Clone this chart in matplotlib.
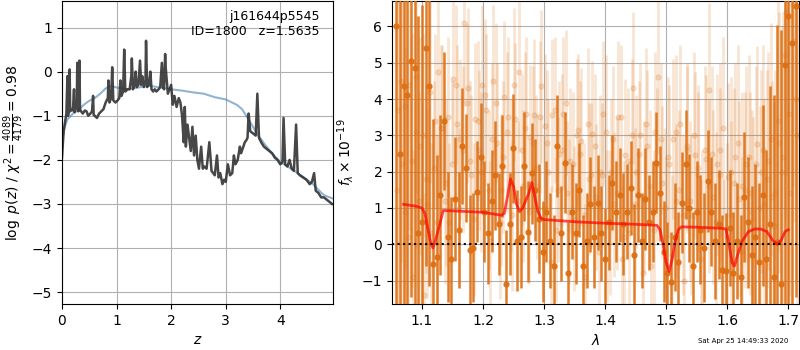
import numpy as np
import matplotlib
matplotlib.use('Agg')
import matplotlib.pyplot as plt

# --- p(z) panel: (z, log p) pairs ---
pz_fine = [(0.00, -1.95), (0.03, -1.35), (0.06, -1.10), (0.08, -0.95), (0.10, -0.10), (0.11, -1.00),
           (0.13, -0.85), (0.14, 0.05), (0.15, -0.90), (0.18, -0.85), (0.20, -0.88), (0.22, -0.40),
           (0.23, -0.92), (0.25, -0.85), (0.27, -0.80), (0.28, 0.20), (0.30, -0.90), (0.32, 0.25),
           (0.33, -0.85), (0.35, -0.90), (0.38, -0.95), (0.42, -0.88), (0.45, -0.90), (0.48, -1.00),
           (0.52, -0.95), (0.55, -0.90), (0.57, -0.55), (0.58, -0.98), (0.60, -1.00), (0.64, -1.05),
           (0.68, -0.95), (0.72, -0.90), (0.76, -0.85), (0.80, -0.70), (0.84, -0.60), (0.85, -0.20),
           (0.87, -0.70), (0.90, -0.60), (0.92, 0.10), (0.94, -0.65), (0.98, -0.70), (1.02, -0.65),
           (1.05, -0.60), (1.07, -0.20), (1.09, -0.55), (1.12, -0.45), (1.14, 0.50), (1.16, -0.45),
           (1.20, -0.40), (1.24, -0.40), (1.27, -0.10), (1.28, 0.30), (1.30, -0.40), (1.33, -0.30),
           (1.35, 0.00), (1.37, -0.35), (1.40, -0.30), (1.43, 0.25), (1.45, -0.30), (1.47, -0.10),
           (1.50, -0.35), (1.53, -0.20), (1.54, 0.70), (1.56, -0.35), (1.59, -0.30), (1.62, 0.00),
           (1.64, -0.40), (1.67, -0.45), (1.70, -0.40), (1.73, -0.45), (1.77, -0.40), (1.80, -0.35),
           (1.83, 0.20), (1.85, -0.35), (1.87, -0.40), (1.89, 0.40), (1.90, 0.10), (1.92, -0.20),
           (1.94, -0.50), (1.97, -0.40), (2.00, -0.30), (2.03, -0.75), (2.06, -0.55), (2.10, -0.80),
           (2.14, -0.60), (2.17, -0.70), (2.20, -1.00), (2.23, -1.60), (2.25, -0.80), (2.27, -1.70),
           (2.30, -1.20), (2.33, -1.50), (2.36, -1.80), (2.39, -1.25), (2.42, -1.90), (2.45, -1.45),
           (2.48, -2.00), (2.51, -2.20), (2.55, -1.70), (2.58, -2.20), (2.61, -2.15), (2.65, -2.20),
           (2.70, -1.60), (2.74, -2.25), (2.77, -2.30), (2.80, -2.35), (2.84, -1.90), (2.87, -2.40),
           (2.90, -2.30), (2.94, -2.55), (2.97, -2.45), (3.00, -2.50), (3.04, -2.10), (3.08, -2.35),
           (3.12, -2.30), (3.15, -1.90), (3.18, -2.10), (3.22, -2.00), (3.26, -1.70), (3.28, -1.85),
           (3.31, -1.75), (3.35, -1.60), (3.38, -1.55), (3.40, -1.50), (3.42, -0.95), (3.45, -1.35),
           (3.50, -1.40), (3.55, -1.45), (3.58, -0.50), (3.61, -1.50), (3.65, -1.60), (3.70, -1.70),
           (3.75, -1.75), (3.80, -1.80), (3.85, -1.85), (3.90, -1.95), (3.95, -2.00), (4.00, -2.10),
           (4.04, -2.05), (4.06, -1.05), (4.09, -2.10), (4.13, -2.15), (4.17, -2.00), (4.21, -2.20),
           (4.25, -2.25), (4.29, -1.20), (4.32, -2.30), (4.36, -2.35), (4.42, -2.40), (4.48, -2.45),
           (4.54, -2.55), (4.58, -2.50), (4.62, -2.30), (4.65, -2.70), (4.70, -2.75), (4.75, -2.85),
           (4.80, -2.85), (4.85, -2.90), (4.90, -2.95), (4.95, -3.00)]
pz_smooth = [(0.00, -1.75), (0.02, -1.45), (0.05, -1.25), (0.10, -1.08), (0.20, -0.95), (0.30, -0.87),
             (0.40, -0.75), (0.50, -0.66), (0.60, -0.60), (0.70, -0.50), (0.80, -0.38), (0.90, -0.33),
             (1.00, -0.36), (1.20, -0.40), (1.40, -0.36), (1.60, -0.32), (1.80, -0.36), (2.00, -0.40),
             (2.20, -0.43), (2.40, -0.47), (2.60, -0.50), (2.80, -0.58), (3.00, -0.63), (3.20, -0.75),
             (3.30, -0.85), (3.40, -1.05), (3.50, -1.25), (3.60, -1.45), (3.70, -1.62), (3.80, -1.78),
             (4.00, -2.05), (4.20, -2.20), (4.40, -2.37), (4.60, -2.55), (4.70, -2.68), (4.80, -2.80),
             (4.95, -2.87)]
z_fine, lnp_fine = zip(*pz_fine)
z_smooth, lnp_smooth = zip(*pz_smooth)

# --- spectrum panel ---
flux_dark = [6.0, 2.5,
             4.35, 4.1, 5.05, 4.85, 0.3, 0.6,
             5.4, 4.35, -0.55, -0.35, 1.35, 3.4,
             0.2, -0.4, 1.25, 0.4, 2.7, 2.1,
             -0.15, -0.1, 1.45, 2.4, 0.9, 0.3,
             1.2, 1.9, 0.55, 2.15, -1.1, 0.55,
             2.65, 0.1, 0.2, 2.15, 0.35, 1.95,
             1.5, 0.7, -0.2, 0.9, 0.1, -0.6,
             2.7, 0.3, 2.25, -0.8, 0.9, 0.3,
             1.5, -0.6, 0.1, 1.1, 0.2, 1.15,
             0.3, -0.4, 0.6, 1.7, 0.9, 1.35,
             0.55, 0.9, 1.55, -0.3, 1.35, 0.1,
             1.25, 0.6, 0.9, 2.25, 1.4, -0.2,
             -0.8, -1.05, 0.2, -0.5, 1.15, 2.2,
             1.0, -0.6, 0.9, 0.4, -0.1, 1.75,
             0.9, 0.1, 0.55, -0.7, -0.75, 0.45,
             -0.8, 0.1, -0.9, 1.3, 0.6, -0.3,
             0.2, -0.5, 1.35, -0.4, 0.55, -0.9,
             0.05, -1.1, 4.95, 6.3, 5.55, 6.55]
err_dark = [9.0, 9.0,
            7.0, 7.0, 6.5, 6.5, 6.0, 6.0,
            6.0, 5.5, 4.0, 2.8, 2.2, 1.9,
            1.8, 1.7, 1.7, 1.6, 1.6, 1.5,
            1.5, 1.5, 1.4, 1.5, 1.4, 1.4,
            1.4, 1.5, 1.4, 1.4, 1.5, 1.4,
            1.5, 1.4, 1.4, 1.5, 1.4, 1.4,
            1.4, 1.5, 1.4, 1.4, 1.3, 1.4,
            1.4, 1.3, 1.4, 1.4, 1.3, 1.4,
            1.3, 1.4, 1.3, 1.3, 1.4, 1.3,
            1.3, 1.4, 1.3, 1.3, 1.4, 1.3,
            1.4, 1.3, 1.3, 1.4, 1.3, 1.3,
            1.4, 1.3, 1.4, 1.4, 1.3, 1.4,
            1.4, 1.4, 1.5, 1.4, 1.4, 1.5,
            1.5, 1.5, 1.4, 1.5, 1.5, 1.4,
            1.5, 1.6, 1.5, 1.5, 1.6, 1.6,
            1.7, 1.6, 1.7, 1.8, 1.8, 1.9,
            2.0, 2.2, 2.5, 3.0, 3.8, 5.0,
            6.0, 7.0, 7.5, 8.0, 8.0, 8.0]
flux_light = [3.7, 2.2,
              0.9, 4.4, -0.9, 3.1, 2.7, -1.4,
              1.1, 0.3, 3.4, 4.75, 3.2, 1.7,
              0.6, 4.55, 3.3, 2.9, 6.1, 4.3,
              1.9, 3.45, 2.6, 4.4, 3.7, 0.1,
              4.5, 2.8, 1.5, 4.05, 3.5, 0.8,
              3.45, 4.75, 1.6, 3.6, 2.95, 3.55,
              1.6, 4.35, 3.25, 2.0, 3.55, 0.4,
              2.5, 3.6, 1.4, 2.3, 0.7, 3.15,
              2.85, -0.9, 1.8, 3.05, 1.3, 2.0,
              3.6, 0.5, 2.0, 1.1, 3.5, -0.4,
              2.45, 0.3, 4.3, 2.0, 3.0, 1.3,
              2.7, -0.6, 3.1, 4.6, 1.7, 0.2,
              2.2, 2.9, 1.2, 3.3, -1.0, 2.6,
              0.8, 2.45, 1.9, 0.4, 2.35, 4.25,
              1.3, 2.2, 2.6, -0.7, 1.85, 0.8,
              2.4, 1.25, 1.6, 2.2, 1.4, 0.7,
              2.75, 2.0, 1.1, 2.3, 1.3, 1.4,
              2.8, 2.4, 6.4, 1.4, 5.6, 3.0]
flux_light2 = [1.5, 4.5,
               3.8, 0.2, 2.3, 4.6, 1.2, 3.0,
               1.8, 4.2, 2.1, 0.6, 3.2, 1.2,
               3.5, 2.2, 4.4, 1.0, 2.6, 3.9,
               2.3, 0.7, 3.4, 2.0, 4.1, 1.5,
               2.9, 3.9, 0.6, 2.4, 3.1, 1.9,
               4.4, 1.2, 2.6, 3.2, 0.9, 2.8,
               2.1, 3.5, 1.0, 2.8, -0.5, 3.7,
               1.5, 2.6, 3.9, 0.9, 2.2, 3.0,
               2.5, 0.8, 3.3, 1.9, 2.7, -0.2,
               1.9, 3.1, 0.6, 2.9, 1.4, 3.5,
               0.2, 2.3, 3.0, 1.1, 2.5, -0.8,
               3.3, 1.6, 0.4, 2.2, 2.9, 1.0,
               2.4, -0.3, 3.1, 1.5, 0.8, 2.7,
               1.2, 3.0, 2.1, -0.4, 2.6, 1.6,
               2.5, 0.6, 1.9, 3.2, 0.2, 2.0,
               1.7, 2.8, -0.2, 1.5, 2.4, 0.9,
               2.2, 1.0, 2.6, 1.8, 2.9, 0.5,
               3.4, 2.0, 5.2, 3.6, 6.6, 4.0]
err_light = [6.0, 5.0,
             4.5, 4.0, 3.5, 3.2, 3.0, 2.8,
             2.6, 2.5, 2.4, 2.4, 2.3, 2.3,
             2.2, 2.3, 2.2, 2.2, 2.3, 2.2,
             2.2, 2.1, 2.2, 2.2, 2.1, 2.2,
             2.1, 2.2, 2.1, 2.1, 2.2, 2.1,
             2.1, 2.2, 2.1, 2.1, 2.0, 2.1,
             2.0, 2.1, 2.0, 2.0, 2.1, 2.0,
             2.0, 2.1, 2.0, 2.0, 2.0, 2.1,
             2.0, 2.0, 2.1, 2.0, 2.0, 2.1,
             2.0, 2.1, 2.0, 2.0, 2.1, 2.0,
             2.1, 2.0, 2.1, 2.1, 2.0, 2.1,
             2.1, 2.1, 2.2, 2.1, 2.1, 2.2,
             2.2, 2.2, 2.1, 2.2, 2.2, 2.3,
             2.2, 2.3, 2.3, 2.2, 2.3, 2.4,
             2.4, 2.5, 2.4, 2.5, 2.6, 2.6,
             2.6, 2.7, 2.6, 2.7, 2.8, 2.8,
             2.7, 2.8, 2.9, 3.0, 3.2, 3.4,
             3.6, 4.0, 4.5, 5.0, 5.0, 5.0]
model = [(1.070, 1.10), (1.090, 1.05), (1.100, 1.00), (1.105, 0.85), (1.110, 0.40), (1.115, 0.00),
         (1.118, -0.10), (1.122, 0.10), (1.130, 0.60), (1.135, 0.93), (1.150, 0.92), (1.200, 0.88),
         (1.230, 0.80), (1.235, 0.85), (1.240, 1.30), (1.245, 1.80), (1.250, 1.60), (1.255, 1.10),
         (1.260, 0.90), (1.265, 1.00), (1.275, 1.40), (1.280, 1.70), (1.285, 1.30), (1.290, 0.90),
         (1.295, 0.72), (1.300, 0.68), (1.350, 0.62), (1.400, 0.58), (1.450, 0.55), (1.485, 0.52),
         (1.490, 0.40), (1.495, 0.00), (1.500, -0.50), (1.505, -0.75), (1.510, -0.40), (1.515, 0.10),
         (1.520, 0.40), (1.525, 0.48), (1.550, 0.47), (1.590, 0.44), (1.598, 0.42), (1.603, 0.00),
         (1.608, -0.50), (1.612, -0.60), (1.617, -0.30), (1.625, 0.10), (1.635, 0.35), (1.645, 0.42),
         (1.655, 0.42), (1.665, 0.35), (1.675, 0.10), (1.682, 0.00), (1.688, 0.10), (1.695, 0.35),
         (1.700, 0.40)]
wave_model, flux_model = zip(*model)

wave_dark = np.linspace(1.058, 1.712, len(flux_dark))
wave_light = np.linspace(1.061, 1.715, len(flux_light))
wave_light2 = np.linspace(1.0595, 1.7135, len(flux_light2))

orange = '#dd6f12'

fig = plt.figure(figsize=(8, 3.5), dpi=100)
ax1 = fig.add_axes([0.0775, 0.131, 0.339, 0.866])
ax2 = fig.add_axes([0.49, 0.131, 0.509, 0.866])

ax1.plot(z_smooth, lnp_smooth, color='steelblue', alpha=0.6, lw=1.5)
ax1.plot(z_fine, lnp_fine, color='0.2', alpha=0.9, lw=1.8)
ax1.set_xlim(0, 4.97)
ax1.set_ylim(-5.27, 1.6)
ax1.set_xticks([0, 1, 2, 3, 4])
ax1.set_yticks([-5, -4, -3, -2, -1, 0, 1])
ax1.grid()
ax1.set_axisbelow(True)
ax1.set_xlabel(r'$z$')
ax1.set_ylabel(r'$\log\ p(z)$ / $\chi^2=\frac{4089}{4179}=0.98$')
ax1.text(0.95, 0.97, 'j161644p5545\nID=1800   z=1.5635', transform=ax1.transAxes,
         ha='right', va='top', fontsize=9)

for w, f in [(wave_light, flux_light), (wave_light2, flux_light2)]:
    ax2.errorbar(w, f, yerr=err_light, fmt='o', color=orange, alpha=0.18,
                 ms=3.5, elinewidth=2, lw=0, zorder=2)
ax2.errorbar(wave_dark, flux_dark, yerr=err_dark, fmt='o', color=orange, alpha=0.9,
             ms=3.5, elinewidth=1.8, lw=0, zorder=3)
ax2.plot(wave_model, flux_model, color='red', alpha=0.7, lw=2, zorder=4)
ax2.axhline(0, color='k', ls=':', lw=1.5, zorder=5)
ax2.set_xlim(1.051, 1.718)
ax2.set_ylim(-1.65, 6.7)
ax2.set_xticks([1.1, 1.2, 1.3, 1.4, 1.5, 1.6, 1.7])
ax2.set_yticks([-1, 0, 1, 2, 3, 4, 5, 6])
ax2.grid()
ax2.set_xlabel(r'$\lambda$')
ax2.set_ylabel(r'$f_\lambda\times 10^{-19}$')

fig.text(0.985, 0.025, 'Sat Apr 25 14:49:33 2020', ha='right', va='center', fontsize=5)

fig.savefig('out.png', dpi=100)
